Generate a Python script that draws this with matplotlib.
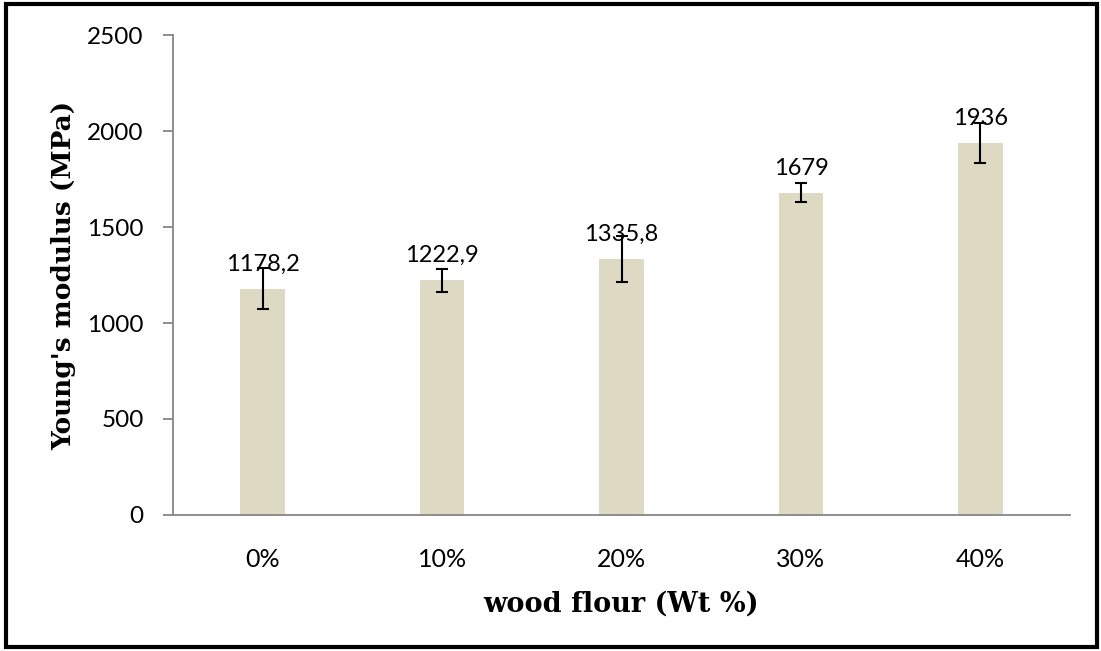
import numpy as np
import matplotlib.pyplot as plt
from matplotlib.patches import Rectangle

# data
labels = ["0%", "10%", "20%", "30%", "40%"]
modulus = [1178.2, 1222.9, 1335.8, 1679, 1936]
errors = [106, 60, 120, 50, 104]
value_text = ["1178,2", "1222,9", "1335,8", "1679", "1936"]

tickfont = "Lato"
labfont = "DejaVu Serif"

fig = plt.figure(figsize=(11.01, 6.51), dpi=100)
ax = fig.add_axes([0.157, 0.209, 0.815, 0.737])

x = np.arange(len(labels))
ax.bar(x, modulus, width=0.25, color="#DDD9C3", zorder=2)
ax.errorbar(x, modulus, yerr=errors, fmt="none", ecolor="black",
            elinewidth=1.5, capsize=4.5, capthick=1.5, zorder=3)

for xi, v, t in zip(x, modulus, value_text):
    ax.annotate(t, (xi, v), xytext=(0, 13), textcoords="offset points",
                ha="center", va="baseline", fontsize=17, family=tickfont)

ax.set_xlim(-0.5, 4.5)
ax.set_ylim(0, 2500)
ax.set_yticks([0, 500, 1000, 1500, 2000, 2500])
ax.set_xticks(x)
ax.set_xticklabels(labels)

for s in ["top", "right"]:
    ax.spines[s].set_visible(False)
for s in ["left", "bottom"]:
    ax.spines[s].set_color("#868686")
    ax.spines[s].set_linewidth(1.3)

ax.tick_params(axis="y", direction="out", length=7, width=1.3, color="#868686",
               pad=14, labelsize=17.5)
ax.tick_params(axis="x", length=0, pad=24, labelsize=18)
for lab in ax.get_xticklabels() + ax.get_yticklabels():
    lab.set_family(tickfont)

ax.set_ylabel("Young's modulus (MPa)", fontsize=19, fontweight="bold",
              family=labfont, labelpad=8)
ax.set_xlabel("wood flour (Wt %)", fontsize=19.5, fontweight="bold",
              family=labfont, labelpad=14)

# outer frame
fig.patches.append(Rectangle((0.005, 0.006), 0.991, 0.988, transform=fig.transFigure,
                             fill=False, edgecolor="black", linewidth=3))

fig.savefig("out.png", dpi=100)
